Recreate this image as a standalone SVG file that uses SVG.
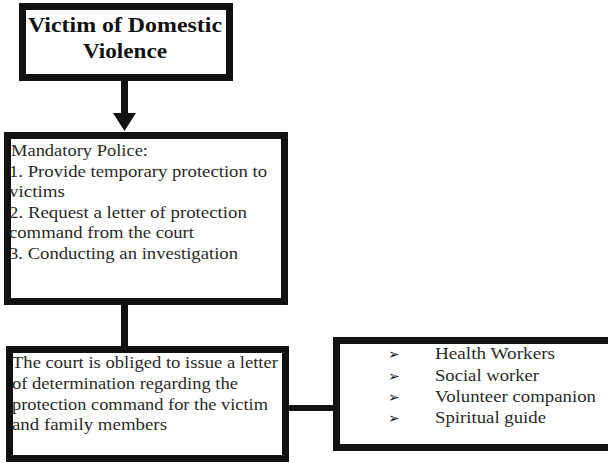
<svg xmlns="http://www.w3.org/2000/svg" width="608" height="463" viewBox="0 0 608 463">
<style>
.box{fill:#fff;stroke:#111;stroke-width:7}
.ttl{font-family:'Liberation Serif','DejaVu Serif',serif;font-weight:bold;font-size:21px;fill:#111;text-anchor:middle}
.t{font-family:'Liberation Serif','DejaVu Serif',serif;font-size:17px;fill:#2a2a2a}
.b{font-family:'DejaVu Sans',sans-serif;font-size:14px;fill:#222}
.con{stroke:#111;fill:none}
</style>
<g id="connectors">
<line class="con" x1="124.5" y1="81" x2="124.5" y2="116" stroke-width="7"/>
<polygon points="113,113 136,113 124.5,131" fill="#111"/>
<line class="con" x1="124.5" y1="304" x2="124.5" y2="347" stroke-width="7"/>
<line class="con" x1="288" y1="408" x2="334" y2="408" stroke-width="6"/>
</g>
<g id="victim">
<rect class="box" x="22.5" y="6.5" width="207" height="71"/>
<text class="ttl" x="125" y="32" textLength="194" lengthAdjust="spacingAndGlyphs">Victim of Domestic</text>
<text class="ttl" x="125" y="58" textLength="84" lengthAdjust="spacingAndGlyphs">Violence</text>
</g>
<g id="police">
<rect class="box" x="7.5" y="135.5" width="277" height="166"/>
<text class="t" x="11" y="156" textLength="137" lengthAdjust="spacingAndGlyphs">Mandatory Police:</text>
<text class="t" x="9" y="176.5" textLength="258" lengthAdjust="spacingAndGlyphs">1. Provide temporary protection to</text>
<text class="t" x="9" y="197" textLength="56" lengthAdjust="spacingAndGlyphs">victims</text>
<text class="t" x="9" y="217.5" textLength="238" lengthAdjust="spacingAndGlyphs">2. Request a letter of protection</text>
<text class="t" x="9" y="238" textLength="185" lengthAdjust="spacingAndGlyphs">command from the court</text>
<text class="t" x="9" y="258.5" textLength="229" lengthAdjust="spacingAndGlyphs">3. Conducting an investigation</text>
</g>
<g id="court">
<rect class="box" x="9.5" y="349.5" width="276" height="109"/>
<text class="t" x="12" y="368" textLength="266" lengthAdjust="spacingAndGlyphs">The court is obliged to issue a letter</text>
<text class="t" x="12" y="389" textLength="226" lengthAdjust="spacingAndGlyphs">of determination regarding the</text>
<text class="t" x="12" y="409.5" textLength="256" lengthAdjust="spacingAndGlyphs">protection command for the victim</text>
<text class="t" x="12" y="430" textLength="155" lengthAdjust="spacingAndGlyphs">and family members</text>
</g>
<g id="support">
<rect class="box" x="336.5" y="340.5" width="280" height="107"/>
<text class="b" x="388" y="359">➢</text>
<text class="b" x="388" y="381">➢</text>
<text class="b" x="388" y="402">➢</text>
<text class="b" x="388" y="423">➢</text>
<text class="t" x="435" y="359" textLength="120" lengthAdjust="spacingAndGlyphs">Health Workers</text>
<text class="t" x="435" y="381" textLength="104" lengthAdjust="spacingAndGlyphs">Social worker</text>
<text class="t" x="435" y="402" textLength="161" lengthAdjust="spacingAndGlyphs">Volunteer companion</text>
<text class="t" x="435" y="423" textLength="111" lengthAdjust="spacingAndGlyphs">Spiritual guide</text>
</g>
</svg>
